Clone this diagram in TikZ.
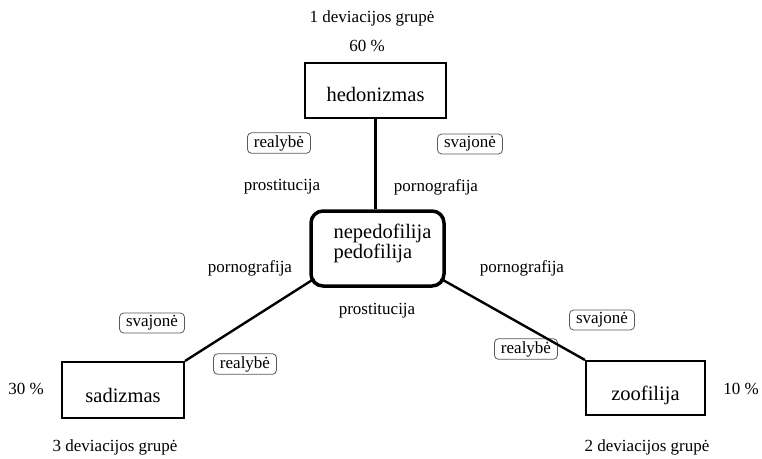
\documentclass[tikz,border=0pt]{standalone}
\usepackage{fontspec}
\setmainfont{Liberation Serif}
\usetikzlibrary{calc}
\tikzset{
  lbl/.style={font=\fontsize{17}{19}\selectfont, inner sep=0pt},
  big/.style={font=\fontsize{20.5}{22}\selectfont},
  catbox/.style={draw, line width=2pt, big, inner sep=0pt, text depth=1pt},
  tag/.style={draw=black!65, line width=0.8pt, rounded corners=4pt, font=\fontsize{17}{19}\selectfont, inner xsep=6.5pt, inner ysep=2.5pt},
  conn/.style={line width=2.4pt},
}
\begin{document}
\begin{tikzpicture}[x=1pt,y=-1pt]
\useasboundingbox (0,0) rectangle (762,458);
% category boxes
\node[catbox, minimum width=141pt, minimum height=55pt, text height=22pt] (hed) at (375.5,90.5) {hedonizmas};
\node[draw, line width=3.5pt, rounded corners=12pt, big, minimum width=133pt, minimum height=75pt, inner sep=0pt] (nep) at (377.5,248.5)
  {\hspace*{10pt}\raisebox{0pt}[\height][\dimexpr\depth+8pt\relax]{\begin{tabular}{@{}l@{}}nepedofilija\\[-2pt]pedofilija\end{tabular}}};
\node[catbox, minimum width=122pt, minimum height=56pt, text height=25pt] (sad) at (123,390) {sadizmas};
\node[catbox, minimum width=119pt, minimum height=54pt, text height=25pt] (zoo) at (645.5,388) {zoofilija};
% captions
\node[lbl] (t1) at (372,18) {1 deviacijos grupė};
\node[lbl] (p60) at (367,46) {60 \%};
\node[lbl] (t3) at (115,447) {3 deviacijos grupė};
\node[lbl] (p30) at (26,389) {30 \%};
\node[lbl] (t2) at (647,447) {2 deviacijos grupė};
\node[lbl] (p10) at (741,389) {10 \%};
% plain labels
\node[lbl] (pr1) at (282,187) {prostitucija};
\node[lbl] (po1) at (436,187) {pornografija};
\node[lbl] (po2) at (250,268) {pornografija};
\node[lbl] (po3) at (522,268) {pornografija};
\node[lbl] (pr2) at (377,311) {prostitucija};
% tags
\node[tag] (r1) at (279,143) {realybė};
\node[tag] (s1) at (470,144) {svajonė};
\node[tag] (s2) at (152,323) {svajonė};
\node[tag] (r2) at (245,364) {realybė};
\node[tag] (s3) at (602,320) {svajonė};
\node[tag] (r3) at (526,349) {realybė};
% connectors
\draw[conn] (hed.south) -- (hed.south |- nep.north);
\draw[conn] (sad.north east) -- ($(nep.south west)+(5,-9)$);
\draw[conn] (zoo.north west) -- ($(nep.south east)+(-5,-9)$);
\end{tikzpicture}
\end{document}
